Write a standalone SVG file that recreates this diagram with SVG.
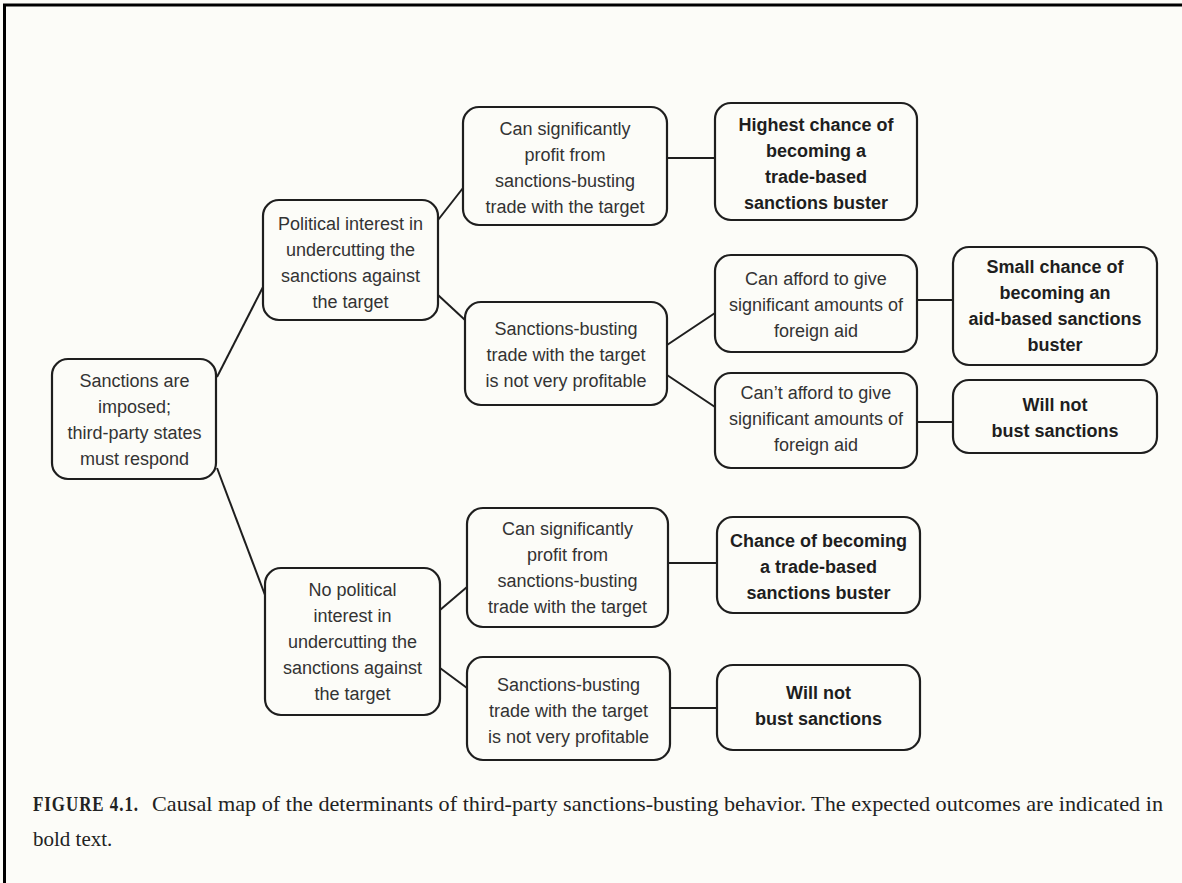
<svg xmlns="http://www.w3.org/2000/svg" width="1182" height="883" viewBox="0 0 1182 883">
<style>
.box{fill:none;stroke:#1e1e1e;stroke-width:2.2}
.t{font-family:"Liberation Sans",Arial,sans-serif;font-size:18px;fill:#333;text-anchor:middle}
.b{font-family:"Liberation Sans",Arial,sans-serif;font-size:18px;font-weight:bold;fill:#1e1e1e;text-anchor:middle}
.c{stroke:#1e1e1e;stroke-width:2;fill:none}
.cap{font-family:"Liberation Serif","Times New Roman",serif;font-size:21px;fill:#222}
</style>
<rect x="0" y="0" width="1182" height="883" fill="#fcfcf8"/>
<path d="M4.5 883 V5 H1182" fill="none" stroke="#000" stroke-width="3"/>
<g id="connectors">
<line class="c" x1="217" y1="377" x2="263" y2="287"/>
<line class="c" x1="217" y1="468" x2="265" y2="595"/>
<line class="c" x1="438" y1="220" x2="463" y2="188"/>
<line class="c" x1="438" y1="295" x2="465" y2="320"/>
<line class="c" x1="667" y1="158" x2="715" y2="158"/>
<line class="c" x1="667" y1="345" x2="715" y2="313"/>
<line class="c" x1="667" y1="375" x2="715" y2="407"/>
<line class="c" x1="917" y1="300" x2="953" y2="300"/>
<line class="c" x1="917" y1="422" x2="953" y2="422"/>
<line class="c" x1="440" y1="610" x2="467" y2="587"/>
<line class="c" x1="440" y1="668" x2="467" y2="688"/>
<line class="c" x1="668" y1="563" x2="717" y2="563"/>
<line class="c" x1="670" y1="708" x2="717" y2="708"/>
</g>
<g id="root">
<rect class="box" x="52" y="359" width="164" height="120" rx="16"/>
<text class="t"><tspan x="134.5" y="387">Sanctions are</tspan><tspan x="134.5" y="413">imposed;</tspan><tspan x="134.5" y="439">third-party states</tspan><tspan x="134.5" y="465">must respond</tspan></text>
</g>
<g id="pol">
<rect class="box" x="263" y="200" width="175" height="120" rx="16"/>
<text class="t"><tspan x="350.5" y="229.5">Political interest in</tspan><tspan x="350.5" y="255.5">undercutting the</tspan><tspan x="350.5" y="281.5">sanctions against</tspan><tspan x="350.5" y="307.5">the target</tspan></text>
</g>
<g id="profit1">
<rect class="box" x="463" y="107" width="204" height="118" rx="16"/>
<text class="t"><tspan x="565" y="134.5">Can significantly</tspan><tspan x="565" y="160.5">profit from</tspan><tspan x="565" y="186.5">sanctions-busting</tspan><tspan x="565" y="212.5">trade with the target</tspan></text>
</g>
<g id="highest">
<rect class="box" x="715" y="103" width="202" height="117" rx="16"/>
<text class="b"><tspan x="816" y="130.5">Highest chance of</tspan><tspan x="816" y="156.5">becoming a</tspan><tspan x="816" y="182.5">trade-based</tspan><tspan x="816" y="208.5">sanctions buster</tspan></text>
</g>
<g id="notprof1">
<rect class="box" x="465" y="302" width="202" height="103" rx="16"/>
<text class="t"><tspan x="566" y="334.5">Sanctions-busting</tspan><tspan x="566" y="360.5">trade with the target</tspan><tspan x="566" y="386.5">is not very profitable</tspan></text>
</g>
<g id="afford">
<rect class="box" x="715" y="255" width="202" height="97" rx="16"/>
<text class="t"><tspan x="816" y="284.5">Can afford to give</tspan><tspan x="816" y="310.5">significant amounts of</tspan><tspan x="816" y="336.5">foreign aid</tspan></text>
</g>
<g id="cant">
<rect class="box" x="715" y="373" width="202" height="95" rx="16"/>
<text class="t"><tspan x="816" y="399">Can’t afford to give</tspan><tspan x="816" y="425">significant amounts of</tspan><tspan x="816" y="451">foreign aid</tspan></text>
</g>
<g id="small">
<rect class="box" x="953" y="247" width="204" height="118" rx="16"/>
<text class="b"><tspan x="1055" y="272.5">Small chance of</tspan><tspan x="1055" y="298.5">becoming an</tspan><tspan x="1055" y="324.5">aid-based sanctions</tspan><tspan x="1055" y="350.5">buster</tspan></text>
</g>
<g id="willnot1">
<rect class="box" x="953" y="380" width="204" height="73" rx="16"/>
<text class="b"><tspan x="1055" y="411">Will not</tspan><tspan x="1055" y="437">bust sanctions</tspan></text>
</g>
<g id="nopol">
<rect class="box" x="265" y="568" width="175" height="147" rx="16"/>
<text class="t"><tspan x="352.5" y="595.5">No political</tspan><tspan x="352.5" y="621.5">interest in</tspan><tspan x="352.5" y="647.5">undercutting the</tspan><tspan x="352.5" y="673.5">sanctions against</tspan><tspan x="352.5" y="699.5">the target</tspan></text>
</g>
<g id="profit2">
<rect class="box" x="467" y="508" width="201" height="119" rx="16"/>
<text class="t"><tspan x="567.5" y="534.5">Can significantly</tspan><tspan x="567.5" y="560.5">profit from</tspan><tspan x="567.5" y="586.5">sanctions-busting</tspan><tspan x="567.5" y="612.5">trade with the target</tspan></text>
</g>
<g id="chance">
<rect class="box" x="717" y="517" width="203" height="96" rx="16"/>
<text class="b"><tspan x="818.5" y="546.5">Chance of becoming</tspan><tspan x="818.5" y="572.5">a trade-based</tspan><tspan x="818.5" y="598.5">sanctions buster</tspan></text>
</g>
<g id="notprof2">
<rect class="box" x="467" y="657" width="203" height="103" rx="16"/>
<text class="t"><tspan x="568.5" y="690.5">Sanctions-busting</tspan><tspan x="568.5" y="716.5">trade with the target</tspan><tspan x="568.5" y="742.5">is not very profitable</tspan></text>
</g>
<g id="willnot2">
<rect class="box" x="717" y="665" width="203" height="85" rx="16"/>
<text class="b"><tspan x="818.5" y="698.5">Will not</tspan><tspan x="818.5" y="724.5">bust sanctions</tspan></text>
</g>
<g id="caption">
<text class="cap" x="33" y="811" font-size="17" font-weight="bold" letter-spacing="1.2" textLength="106" lengthAdjust="spacingAndGlyphs">FIGURE 4.1.</text>
<text class="cap" x="152" y="811" textLength="1011" lengthAdjust="spacingAndGlyphs">Causal map of the determinants of third-party sanctions-busting behavior. The expected outcomes are indicated in</text>
<text class="cap" x="33" y="846">bold text.</text>
</g>
</svg>
